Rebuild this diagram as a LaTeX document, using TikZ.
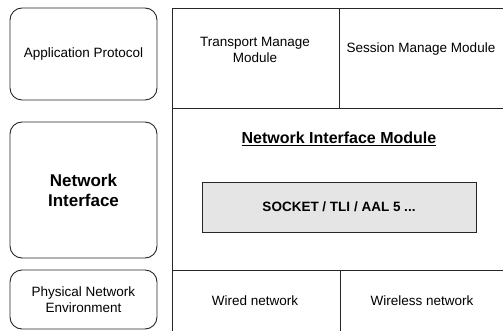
\documentclass[tikz,border=0pt]{standalone}
\usepackage{fontspec}
\setmainfont{Liberation Sans}
\begin{document}
\begin{tikzpicture}[x=1pt,y=-1pt,
  frame/.style={draw=black!85,line width=0.9pt},
  side/.style={frame,rounded corners=12pt},
  lbl/.style={align=center,font=\fontsize{13.5}{16}\selectfont},
  boldlbl/.style={align=center,font=\fontsize{17}{20}\selectfont\bfseries},
  pane/.style={frame,fill=black!10}]
  \useasboundingbox (0,0) rectangle (503,331);

  % left column: rounded layer boxes
  \node[side,minimum width=147pt,minimum height=92pt,lbl] (app) at (83.5,54) {Application Protocol};
  \node[side,minimum width=147pt,minimum height=136pt,boldlbl] (nif) at (83.5,190) {Network\\Interface};
  \node[side,minimum width=147pt,minimum height=59pt,lbl] (phy) at (83.5,299.5) {Physical Network\\Environment};

  % right column: module table
  \coordinate (tl) at (172,8);
  \coordinate (tr) at (503,8);
  \coordinate (bl) at (172,331);
  \draw[frame] (tr) -- (tl) -- (bl);
  \draw[frame] (172,108) -- (503,108);
  \draw[frame] (172,270) -- (503,270);
  \draw[frame] (339,8) -- (339,108);
  \draw[frame] (340,270) -- (340,331);

  \node[lbl] (tm) at (255,50) {Transport Manage\\Module};
  \node[lbl] (sm) at (421,49) {Session Manage Module};
  \node[font=\fontsize{16}{18}\selectfont\bfseries] (nim) at (339,139) {\underline{Network Interface Module}};
  \node[pane,minimum width=274pt,minimum height=50pt,font=\fontsize{13.5}{16}\selectfont\bfseries] (sock) at (339,207) {SOCKET / TLI / AAL 5 ...};
  \node[lbl] (wired) at (255,301) {Wired network};
  \node[lbl] (wless) at (422,301) {Wireless network};
\end{tikzpicture}
\end{document}
